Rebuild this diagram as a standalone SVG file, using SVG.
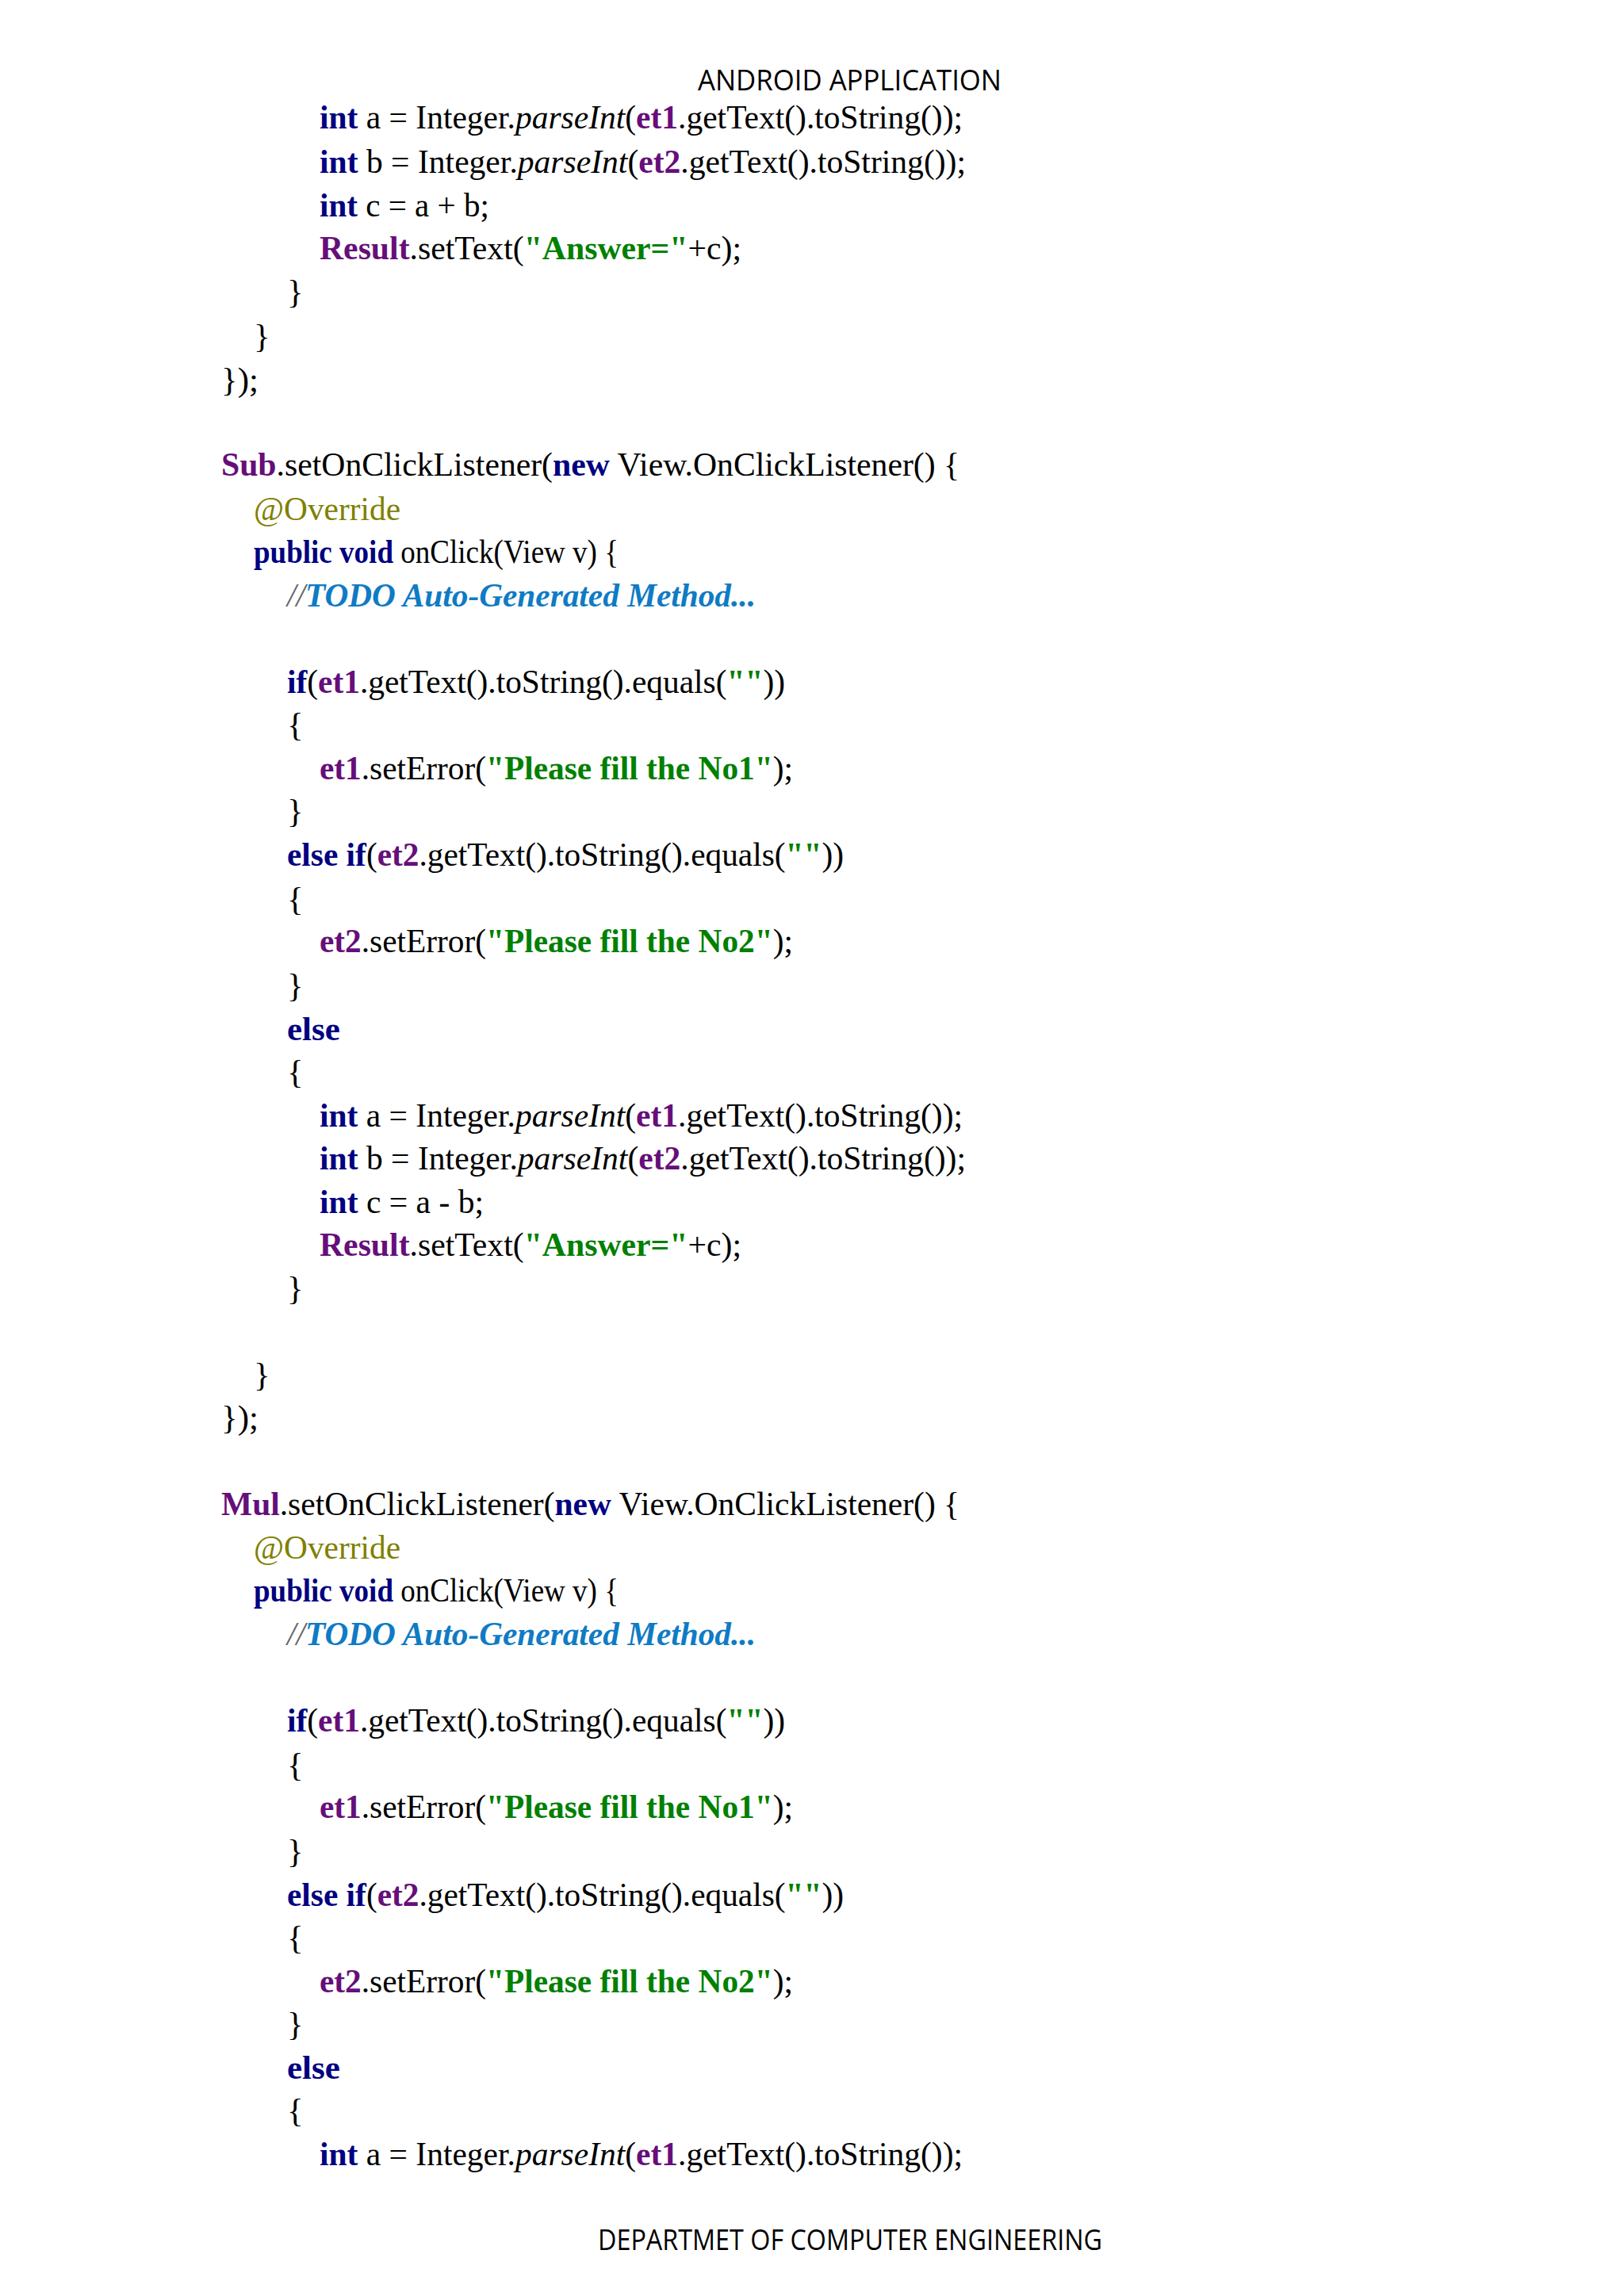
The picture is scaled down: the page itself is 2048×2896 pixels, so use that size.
<svg xmlns="http://www.w3.org/2000/svg" width="2048" height="2896" viewBox="0 0 2048 2896">
<style>
.h{font-family:"Open Sans","Liberation Sans",sans-serif;font-size:36px;fill:#000}
.c{font-family:"Liberation Serif",serif;font-size:43px;fill:#000}
.k{fill:#000080;font-weight:bold}
.p{fill:#660e7a;font-weight:bold}
.s{fill:#008000;font-weight:bold}
.i{font-style:italic}
.o{fill:#808000}
.m{fill:#0f7bc4;font-style:italic;font-weight:bold}
.g{fill:#666;font-style:italic}
</style>
<rect width="2048" height="2896" fill="#fff"/>
<text class="h" x="880" y="114" textLength="383" lengthAdjust="spacingAndGlyphs">ANDROID APPLICATION</text>
<text class="h" x="754" y="2838" textLength="636" lengthAdjust="spacingAndGlyphs">DEPARTMET OF COMPUTER ENGINEERING</text>
<g id="code">
<text class="c" x="403" y="162" textLength="811" lengthAdjust="spacingAndGlyphs"><tspan class="k">int</tspan> a = Integer.<tspan class="i">parseInt</tspan>(<tspan class="p">et1</tspan>.getText().toString());</text>
<text class="c" x="403" y="218" textLength="815" lengthAdjust="spacingAndGlyphs"><tspan class="k">int</tspan> b = Integer.<tspan class="i">parseInt</tspan>(<tspan class="p">et2</tspan>.getText().toString());</text>
<text class="c" x="403" y="273" textLength="214" lengthAdjust="spacingAndGlyphs"><tspan class="k">int</tspan> c = a + b;</text>
<text class="c" x="403" y="327" textLength="532" lengthAdjust="spacingAndGlyphs"><tspan class="p">Result</tspan>.setText(<tspan class="s">"Answer="</tspan>+c);</text>
<text class="c" x="362" y="382">}</text>
<text class="c" x="320" y="438">}</text>
<text class="c" x="279" y="493">});</text>

<text class="c" x="279" y="600" textLength="931" lengthAdjust="spacingAndGlyphs"><tspan class="p">Sub</tspan>.setOnClickListener(<tspan class="k">new</tspan> View.OnClickListener() {</text>
<text class="c o" x="320" y="656" textLength="185" lengthAdjust="spacingAndGlyphs">@Override</text>
<text class="c" x="320" y="710" textLength="460" lengthAdjust="spacingAndGlyphs"><tspan class="k">public void</tspan> onClick(View v) {</text>
<text class="c" x="362" y="765" textLength="591" lengthAdjust="spacingAndGlyphs"><tspan class="g">//</tspan><tspan class="m">TODO Auto-Generated Method...</tspan></text>
<text class="c" x="362" y="874" textLength="628" lengthAdjust="spacingAndGlyphs"><tspan class="k">if</tspan>(<tspan class="p">et1</tspan>.getText().toString().equals(<tspan class="s">""</tspan>))</text>
<text class="c" x="362" y="928">{</text>
<text class="c" x="403" y="983" textLength="597" lengthAdjust="spacingAndGlyphs"><tspan class="p">et1</tspan>.setError(<tspan class="s">"Please fill the No1"</tspan>);</text>
<text class="c" x="362" y="1037">}</text>
<text class="c" x="362" y="1092" textLength="702" lengthAdjust="spacingAndGlyphs"><tspan class="k">else if</tspan>(<tspan class="p">et2</tspan>.getText().toString().equals(<tspan class="s">""</tspan>))</text>
<text class="c" x="362" y="1148">{</text>
<text class="c" x="403" y="1201" textLength="597" lengthAdjust="spacingAndGlyphs"><tspan class="p">et2</tspan>.setError(<tspan class="s">"Please fill the No2"</tspan>);</text>
<text class="c" x="362" y="1257">}</text>
<text class="c k" x="362" y="1312">else</text>
<text class="c" x="362" y="1366">{</text>
<text class="c" x="403" y="1421" textLength="811" lengthAdjust="spacingAndGlyphs"><tspan class="k">int</tspan> a = Integer.<tspan class="i">parseInt</tspan>(<tspan class="p">et1</tspan>.getText().toString());</text>
<text class="c" x="403" y="1475" textLength="815" lengthAdjust="spacingAndGlyphs"><tspan class="k">int</tspan> b = Integer.<tspan class="i">parseInt</tspan>(<tspan class="p">et2</tspan>.getText().toString());</text>
<text class="c" x="403" y="1530" textLength="207" lengthAdjust="spacingAndGlyphs"><tspan class="k">int</tspan> c = a - b;</text>
<text class="c" x="403" y="1584" textLength="532" lengthAdjust="spacingAndGlyphs"><tspan class="p">Result</tspan>.setText(<tspan class="s">"Answer="</tspan>+c);</text>
<text class="c" x="362" y="1639">}</text>
<text class="c" x="320" y="1748">}</text>
<text class="c" x="279" y="1802">});</text>

<text class="c" x="279" y="1911" textLength="931" lengthAdjust="spacingAndGlyphs"><tspan class="p">Mul</tspan>.setOnClickListener(<tspan class="k">new</tspan> View.OnClickListener() {</text>
<text class="c o" x="320" y="1966" textLength="185" lengthAdjust="spacingAndGlyphs">@Override</text>
<text class="c" x="320" y="2020" textLength="460" lengthAdjust="spacingAndGlyphs"><tspan class="k">public void</tspan> onClick(View v) {</text>
<text class="c" x="362" y="2075" textLength="591" lengthAdjust="spacingAndGlyphs"><tspan class="g">//</tspan><tspan class="m">TODO Auto-Generated Method...</tspan></text>
<text class="c" x="362" y="2184" textLength="628" lengthAdjust="spacingAndGlyphs"><tspan class="k">if</tspan>(<tspan class="p">et1</tspan>.getText().toString().equals(<tspan class="s">""</tspan>))</text>
<text class="c" x="362" y="2240">{</text>
<text class="c" x="403" y="2293" textLength="597" lengthAdjust="spacingAndGlyphs"><tspan class="p">et1</tspan>.setError(<tspan class="s">"Please fill the No1"</tspan>);</text>
<text class="c" x="362" y="2349">}</text>
<text class="c" x="362" y="2404" textLength="702" lengthAdjust="spacingAndGlyphs"><tspan class="k">else if</tspan>(<tspan class="p">et2</tspan>.getText().toString().equals(<tspan class="s">""</tspan>))</text>
<text class="c" x="362" y="2458">{</text>
<text class="c" x="403" y="2513" textLength="597" lengthAdjust="spacingAndGlyphs"><tspan class="p">et2</tspan>.setError(<tspan class="s">"Please fill the No2"</tspan>);</text>
<text class="c" x="362" y="2567">}</text>
<text class="c k" x="362" y="2622">else</text>
<text class="c" x="362" y="2676">{</text>
<text class="c" x="403" y="2731" textLength="811" lengthAdjust="spacingAndGlyphs"><tspan class="k">int</tspan> a = Integer.<tspan class="i">parseInt</tspan>(<tspan class="p">et1</tspan>.getText().toString());</text>
</g>
</svg>
